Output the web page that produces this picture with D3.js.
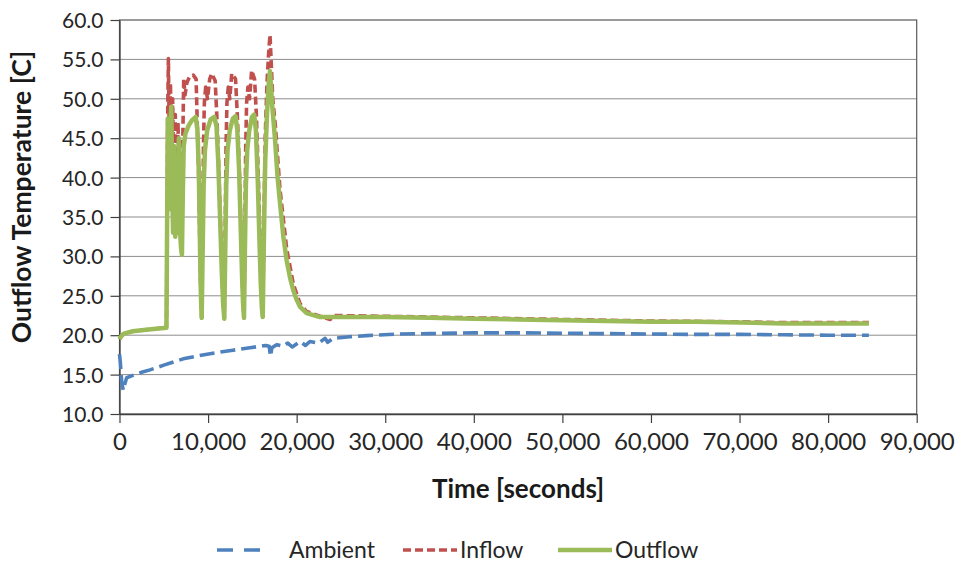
<!DOCTYPE html>
<html>
<head>
<meta charset="utf-8">
<script src="https://cdn.jsdelivr.net/npm/d3@7"></script>
<style>
  body { margin: 0; background: #fff; }
  svg { font-family: Lato, "Open Sans", sans-serif; }
</style>
</head>
<body>
<div id="chart"></div>
<script>
// valeurs : [temps (s), temperature (C)]
const ambient = [
  [0, 17.6], [100, 16.5], [250, 14.0], [430, 13.0], [600, 13.8], [810, 14.6],
  [1500, 14.9], [2500, 15.3], [3440, 15.6], [5000, 16.2], [7200, 17.0], [9000, 17.4],
  [10970, 17.8], [12800, 18.1], [14730, 18.4], [16500, 18.7], [16900, 18.6], [17050, 17.3],
  [17200, 18.4], [17750, 18.8], [18500, 18.6], [19000, 19.0], [19500, 18.5], [20400, 19.2],
  [21000, 18.7], [21500, 19.2], [22500, 19.0], [23200, 19.6], [23500, 19.1], [24100, 19.6],
  [26000, 19.8], [27900, 19.95], [31670, 20.15], [35000, 20.2], [40000, 20.3], [45000, 20.3],
  [50000, 20.25], [55000, 20.2], [60000, 20.15], [65000, 20.1], [70000, 20.1], [75000, 20.05],
  [80000, 20.0], [84600, 20.0]
];

const inflow = [
  [0, 19.5], [150, 19.8], [500, 20.2], [1500, 20.5], [3000, 20.7], [5300, 20.95],
  [5450, 49], [5520, 55.1], [5650, 42], [5750, 52], [5900, 40], [6000, 50], [6150, 36],
  [6300, 48], [6450, 35], [6600, 47], [6800, 36], [6950, 34], [7050, 33], [7150, 45],
  [7250, 52.6], [7400, 50.5], [7600, 52], [7900, 52.8], [8330, 53.0], [8650, 52.5],
  [8800, 46], [8950, 40], [9050, 33], [9150, 27], [9220, 24], [9280, 22.2],
  [9380, 33], [9480, 44], [9580, 49.5], [9730, 51.5], [9930, 50], [10180, 52.5], [10410, 53.2],
  [10800, 52.3], [10980, 48], [11150, 43], [11350, 36], [11550, 29], [11700, 24.5], [11830, 22.1],
  [11930, 33], [12030, 44], [12130, 49.5], [12280, 51.5], [12450, 50], [12670, 53.2],
  [13100, 52.5], [13300, 48], [13500, 42], [13700, 34], [13850, 28], [13950, 24.5], [14055, 22.2],
  [14150, 33], [14250, 44], [14350, 49.5], [14500, 51.5], [14680, 50], [14920, 53.6],
  [15250, 52.5], [15450, 48], [15650, 41], [15850, 33], [15980, 27], [16080, 24], [16170, 22.3],
  [16300, 34], [16450, 45], [16650, 52], [16850, 56], [16990, 58.1], [17150, 54], [17300, 50],
  [17600, 46.5], [18120, 38.5], [18870, 31], [19620, 26.5], [20380, 24.0], [21130, 23.0],
  [22630, 22.4], [23800, 22.0], [24000, 22.5], [30000, 22.4], [40000, 22.2], [50000, 22.0],
  [60000, 21.8], [70000, 21.7], [75000, 21.6], [84600, 21.6]
];

const outflow = [
  [0, 19.5], [150, 19.8], [500, 20.2], [1500, 20.5], [3000, 20.7], [5300, 20.95],
  [5450, 47.5], [5600, 36], [5700, 46], [5850, 49], [5950, 38], [6050, 33], [6150, 44],
  [6300, 32.5], [6400, 41], [6550, 33], [6700, 45], [6800, 34], [6950, 31], [7050, 30.2],
  [7150, 38], [7250, 44], [7450, 45.6], [7800, 46.6], [8200, 47.3], [8600, 47.7],
  [8800, 46], [8950, 41], [9050, 34], [9150, 27], [9220, 24], [9280, 22.2],
  [9380, 30], [9500, 39], [9650, 43.5], [9900, 46], [10300, 47.4], [10700, 47.7],
  [10950, 46.5], [11150, 42], [11350, 35], [11550, 28], [11700, 24], [11830, 22.1],
  [11930, 30], [12050, 39], [12200, 43.5], [12450, 46], [12800, 47.5], [13100, 47.8],
  [13300, 46], [13500, 41], [13700, 33], [13850, 27], [13950, 24], [14055, 22.2],
  [14150, 30], [14270, 39], [14420, 43.5], [14650, 46], [14950, 47.7], [15200, 48],
  [15400, 46], [15600, 40], [15800, 32], [15950, 26.5], [16070, 23.5], [16170, 22.3],
  [16300, 32], [16450, 42], [16650, 48], [16850, 52], [16990, 53.5], [17250, 49],
  [17550, 45], [17850, 40], [18120, 36.8], [18500, 32.5], [18870, 29.5], [19250, 27.3],
  [19620, 25.7], [20000, 24.5], [20380, 23.6], [21130, 22.8], [22630, 22.3], [25000, 22.3],
  [30000, 22.3], [35000, 22.2], [40000, 22.1], [45000, 22.0], [50000, 21.9], [55000, 21.8],
  [60000, 21.7], [65000, 21.7], [70000, 21.6], [75000, 21.5], [80000, 21.5], [84600, 21.5]
];

const xTicks = [0, 10000, 20000, 30000, 40000, 50000, 60000, 70000, 80000, 90000];
const yTicks = [10, 15, 20, 25, 30, 35, 40, 45, 50, 55, 60];
const seriesNames = ["Ambient", "Inflow", "Outflow"];

// canevas
const W = 958, H = 571;
const margin = { top: 20, right: 41.3, bottom: 157, left: 119.5 };
const width = W - margin.left - margin.right,
      height = H - margin.top - margin.bottom;

const x = d3.scaleLinear().domain([0, 90000]).range([0, width]);
const y = d3.scaleLinear().domain([10, 60]).range([height, 0]);

const svg = d3.select("#chart").append("svg")
  .attr("width", W)
  .attr("height", H);

const g = svg.append("g")
  .attr("transform", "translate(" + margin.left + "," + margin.top + ")");

// grille
g.append("g")
  .selectAll("line")
  .data(yTicks.slice(1, -1))
  .join("line")
  .attr("x1", 0).attr("x2", width)
  .attr("y1", d => y(d)).attr("y2", d => y(d))
  .attr("stroke", "#8c8c8c")
  .attr("stroke-width", 1);

// cadre
g.append("rect")
  .attr("width", width).attr("height", height)
  .attr("fill", "none")
  .attr("stroke", "#595959")
  .attr("stroke-width", 1.2);

// axes
const xAxis = g.append("g")
  .attr("transform", "translate(0," + height + ")")
  .call(d3.axisBottom(x).tickValues(xTicks).tickFormat(d3.format(",")).tickSize(9).tickSizeOuter(0));

const yAxis = g.append("g")
  .call(d3.axisLeft(y).tickValues(yTicks).tickFormat(d3.format(".1f")).tickSize(9).tickSizeOuter(0));

[xAxis, yAxis].forEach(a => {
  a.select(".domain").attr("stroke", "#404040").attr("stroke-width", 1.3);
  a.selectAll(".tick line").attr("stroke", "#404040").attr("stroke-width", 1.2);
  a.selectAll("text").attr("fill", "#262626").style("font-family", "Lato, sans-serif");
});

xAxis.selectAll("text")
  .attr("dy", null)
  .attr("y", 36)
  .style("font-size", "24px");

yAxis.selectAll("text")
  .attr("dy", "0.36em")
  .attr("x", -16)
  .style("font-size", "21px");

// courbes
const line = d3.line()
  .x(d => x(d[0]))
  .y(d => y(d[1]));

const styles = {
  Ambient: { data: ambient, color: "#4f81bd", width: 3.6, dash: "15,6" },
  Inflow: { data: inflow, color: "#c0504d", width: 3.6, dash: "8,4" },
  Outflow: { data: outflow, color: "#9bbb59", width: 4.5, dash: null }
};

seriesNames.forEach(name => {
  const s = styles[name];
  g.append("path")
    .datum(s.data)
    .attr("fill", "none")
    .attr("stroke", s.color)
    .attr("stroke-width", s.width)
    .attr("stroke-dasharray", s.dash)
    .attr("stroke-linejoin", "round")
    .attr("d", line);
});

// titres
svg.append("text")
  .text("Outflow Temperature [C]")
  .attr("transform", "translate(31,197) rotate(-90)")
  .attr("text-anchor", "middle")
  .style("font-size", "26.5px")
  .style("font-weight", "bold")
  .style("fill", "#1a1a1a");

svg.append("text")
  .text("Time [seconds]")
  .attr("x", margin.left + width / 2)
  .attr("y", 498)
  .attr("text-anchor", "middle")
  .style("font-size", "26px")
  .style("font-weight", "bold")
  .style("fill", "#1a1a1a");

// legende
const legendX = [217, 403, 558];
const legend = svg.append("g").attr("transform", "translate(0,550)");

seriesNames.forEach((name, i) => {
  const s = styles[name];
  const sampleW = i === 0 ? 46 : 54;
  legend.append("line")
    .attr("x1", legendX[i]).attr("x2", legendX[i] + sampleW)
    .attr("y1", 0).attr("y2", 0)
    .attr("stroke", s.color)
    .attr("stroke-width", s.width)
    .attr("stroke-dasharray", i === 0 ? "16,11" : s.dash);
  legend.append("text")
    .text(name)
    .attr("x", legendX[i] + (i === 0 ? 72 : 57))
    .attr("y", 8)
    .style("font-size", "23px")
    .style("fill", "#262626");
});
</script>
</body>
</html>
